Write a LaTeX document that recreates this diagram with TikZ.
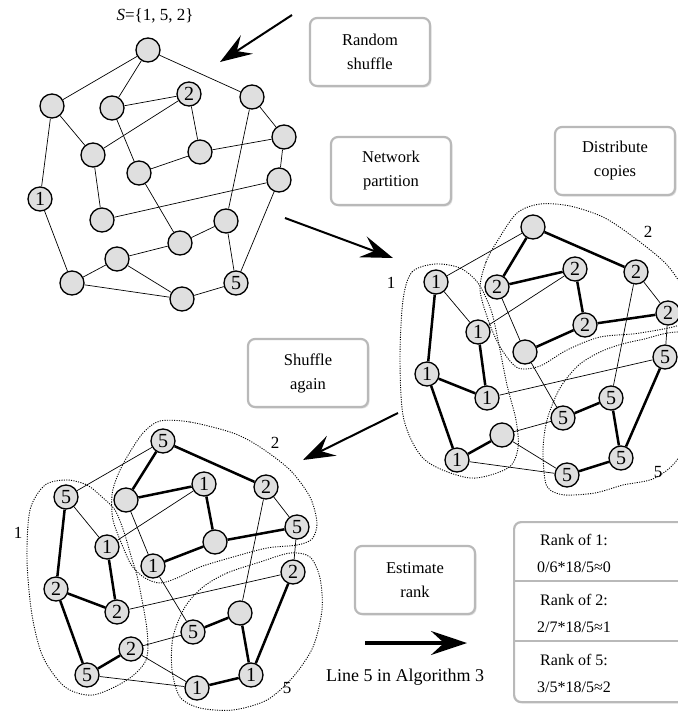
\documentclass[tikz,border=0pt]{standalone}
\usepackage{fontspec}
\setmainfont{Liberation Serif}
\usetikzlibrary{arrows.meta,shadows}
\def\firstedges{a/b, a/c, a/e, c/d, h/d, d/g, b/h, b/k, h/l, c/i, i/n, i/g, g/f, e/f, e/m, f/j, j/l, j/q, m/n, m/q, n/o, k/p, o/p, o/r, p/r, r/q}
\def\crossedges{a/b, f/d, b/f, c/i, i/n, e/h, e/m, h/j, j/l, n/o, o/r, p/r}
\def\localedges{a/c, a/e, c/d, d/g, i/g, g/h, b/k, f/l, k/l, j/q, m/n, m/q, k/p, o/p, r/q}
\tikzset{
  vtx/.style={circle, draw, line width=1.3pt, fill=gray!25, minimum size=24pt, inner sep=0pt, font=\fontsize{20}{20}\selectfont},
  lite/.style={line width=0.7pt},
  heavy/.style={line width=2.5pt},
  stepbox/.style={draw=gray!55, line width=2.2pt, rounded corners=7pt, fill=white, minimum width=120pt, minimum height=68pt, align=center, font=\fontsize{16.5}{24}\selectfont, drop shadow={shadow xshift=1.5pt, shadow yshift=-1.5pt, fill=gray!45}},
  part/.style={line width=0.9pt, dash pattern=on 1.1pt off 1.3pt},
  plabel/.style={font=\fontsize{17}{17}\selectfont},
  ranktext/.style={font=\fontsize{16}{27}\selectfont, align=center},
  bigarrow/.style={line width=2pt, -{Stealth[length=32pt, width=22pt, inset=12pt]}},
}

\begin{document}
\begin{tikzpicture}[x=1pt, y=-1pt]
    \clip (0,0) rectangle (678,713);

    % partitions
    \draw[part] plot[smooth cycle] coordinates {(403,300) (412,272) (435,264) (460,268) (478,283) (491,310) (498,340) (507,385) (516,420) (518,448) (508,468) (470,478) (425,460) (404,420) (400,360)};
    \draw[part] plot[smooth cycle] coordinates {(480,290) (486,262) (498,240) (517,213) (540,204) (570,206) (605,218) (640,242) (668,266) (686,295) (686,322) (640,333) (600,337) (567,350) (540,366) (518,368) (502,350) (490,325)};
    \draw[part] plot[smooth cycle] coordinates {(545,480) (543,450) (547,420) (560,388) (580,364) (607,349) (640,340) (686,335) (692,400) (680,455) (655,478) (623,485) (595,493) (565,495) (550,490)};
    \draw[part] plot[smooth cycle] coordinates {(67,480) (87,485) (102,497) (115,510) (124,532) (131,556) (138,580) (147,630) (146,660) (127,680) (93,695) (65,687) (43,657) (32,615) (27,560) (30,510) (45,485)};
    \draw[part] plot[smooth cycle] coordinates {(160,421) (190,422) (233,433) (260,447) (290,470) (310,497) (317,523) (312,539) (297,545) (267,548) (233,557) (200,567) (177,578) (160,583) (145,578) (132,566) (123,547) (113,520) (112,495) (117,477) (127,457) (143,433)};
    \draw[part] plot[smooth cycle] coordinates {(203,587) (227,573) (260,562) (290,553) (310,557) (320,578) (322,610) (313,647) (293,677) (267,700) (233,710) (200,708) (180,697) (172,670) (173,637) (185,607)};
    \node[plabel] (p1a) at (391,283) {1};
    \node[plabel] (p2a) at (648,232) {2};
    \node[plabel] (p5a) at (658,472) {5};
    \node[plabel] (p1b) at (18,533) {1};
    \node[plabel] (p2b) at (275,443) {2};
    \node[plabel] (p5b) at (287,688) {5};

    % shuffled network
    \foreach \n/\x/\y/\t in {a/148/50/, b/52/106/, c/112/108/, d/189/94/2, e/252/97/, f/284/137/, g/200/152/, h/93/155/, i/139/173/, j/279/180/, k/40/199/1, l/102/220/, m/226/221/, n/180/243/, o/117/259/, p/72/283/, q/236/283/5, r/182/299/}
        \node[vtx] (sh\n) at (\x,\y) {\t};
    \foreach \s/\e in \firstedges
        \draw[lite] (sh\s) -- (sh\e);

    % partitioned copies
    \foreach \n/\x/\y/\t in {a/533/227/, b/436/282/1, c/497/287/2, d/575/269/2, e/636/272/2, f/478/332/1, g/585/325/2, h/668/313/2, i/525/352/, j/665/357/5, k/427/374/1, l/487/398/1, m/611/398/5, n/563/418/5, o/502/435/, p/457/460/1, q/621/458/5, r/567/475/5}
        \node[vtx] (pt\n) at (\x,\y) {\t};

    % shuffled again
    \foreach \n/\x/\y/\t in {a/163/441/5, b/66/497/5, c/126/500/, d/204/484/1, e/266/487/2, f/107/547/1, g/215/542/, h/297/527/5, i/153/566/1, j/293/572/2, k/56/589/2, l/117/612/2, m/240/613/, n/193/632/5, o/131/649/2, p/87/675/5, q/251/675/1, r/197/688/1}
        \node[vtx] (rs\n) at (\x,\y) {\t};

    \foreach \g in {pt, rs} {
        \foreach \s/\e in \crossedges
            \draw[lite] (\g\s) -- (\g\e);
        \foreach \s/\e in \localedges
            \draw[heavy] (\g\s) -- (\g\e);
    }

    % steps
    \node[stepbox] (shuffle) at (370,52) {Random\\shuffle};
    \node[stepbox] (netpart) at (391,171) {Network\\partition};
    \node[stepbox] (distrib) at (615,161) {Distribute\\copies};
    \node[stepbox] (reshuffle) at (308,373) {Shuffle\\again};
    \node[stepbox] (estimate) at (415,580) {Estimate\\rank};

    \node[stepbox, minimum width=200pt, minimum height=180pt, anchor=north west] (ranktab) at (513,521) {};
    \draw[draw=gray!55, line width=2.2pt] (513,581) -- (713,581);
    \draw[draw=gray!55, line width=2.2pt] (513,641) -- (713,641);
    \node[ranktext] (rank1) at (574,553) {Rank of 1:\\0/6*18/5≈0};
    \node[ranktext] (rank2) at (574,613) {Rank of 2:\\2/7*18/5≈1};
    \node[ranktext] (rank5) at (574,673) {Rank of 5:\\3/5*18/5≈2};

    \node[font=\fontsize{17}{17}\selectfont] (sset) at (155,16) {\textit{S}=\{1, 5, 2\}};
    \node[font=\fontsize{18}{18}\selectfont] (algline) at (405,677) {Line 5 in Algorithm 3};

    % arrows
    \coordinate (a1s) at (292,15);
    \coordinate (a1e) at (220,62);
    \coordinate (a2s) at (285,218);
    \coordinate (a2e) at (393,258);
    \coordinate (a3s) at (398,413);
    \coordinate (a3e) at (303,460);
    \coordinate (a4s) at (365,643);
    \coordinate (a4e) at (467,643);
    \draw[bigarrow] (a1s) -- (a1e);
    \draw[bigarrow] (a2s) -- (a2e);
    \draw[bigarrow] (a3s) -- (a3e);
    \draw[line width=3.2pt, -{Stealth[length=36pt, width=24pt, inset=13pt]}] (a4s) -- (a4e);
\end{tikzpicture}
\end{document}
